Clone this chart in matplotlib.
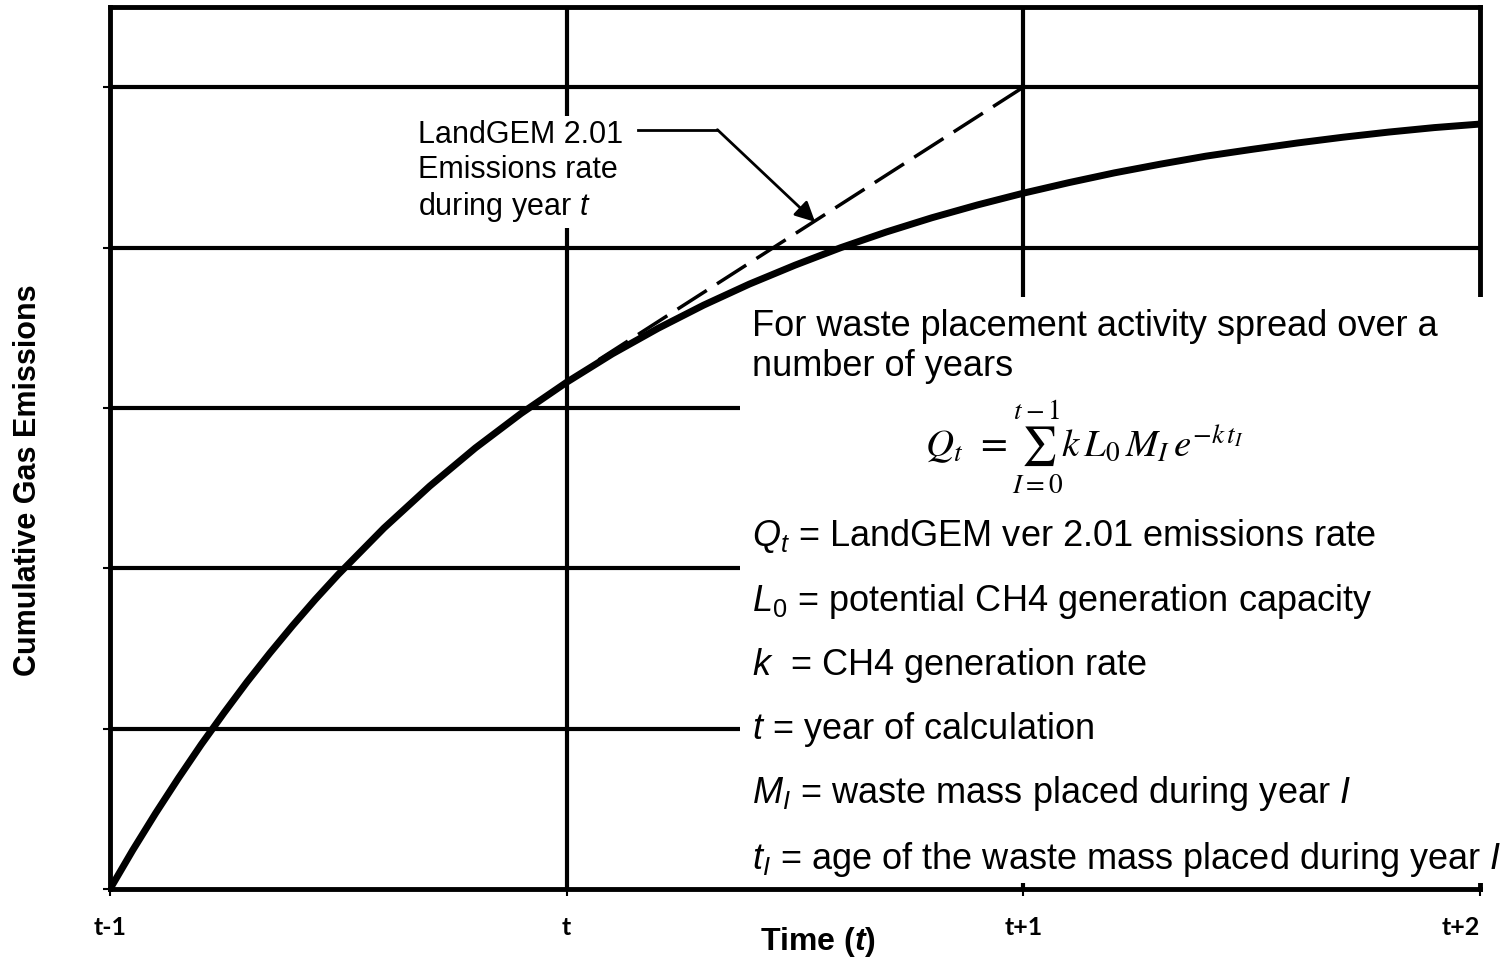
import matplotlib
matplotlib.use("Agg")
import matplotlib.pyplot as plt
from matplotlib.patches import Rectangle

# ---------------- data ----------------
x_ticks = [0, 1, 2, 3]
x_tick_labels = ["t-1", "t", "t+1", "t+2"]
y_grid = [0, 1, 2, 3, 4, 5]

# cumulative emissions curve
curve_x = [0, 0.05, 0.1, 0.15, 0.2, 0.25, 0.3, 0.35, 0.4, 0.45, 0.5, 0.6, 0.7, 0.8,
           0.9, 1.0, 1.1, 1.2, 1.3, 1.4, 1.5, 1.6, 1.7, 1.8, 1.9, 2.0, 2.1, 2.2,
           2.3, 2.4, 2.5, 2.6, 2.7, 2.8, 2.9, 3.0]
curve_y = [0, 0.243, 0.473, 0.692, 0.902, 1.100, 1.291, 1.471, 1.643, 1.807, 1.962,
           2.251, 2.512, 2.750, 2.965, 3.160, 3.337, 3.496, 3.641, 3.772, 3.890,
           3.999, 4.097, 4.186, 4.266, 4.339, 4.405, 4.466, 4.520, 4.570, 4.612,
           4.652, 4.688, 4.720, 4.748, 4.770]

# LandGEM 2.01 dashed emissions-rate line
dash_x = [1.07, 2.0]
dash_y = [3.30, 5.0]

annot_text = "LandGEM 2.01\nEmissions rate\nduring year $\\mathsf{t}$"
box_header = "For waste placement activity spread over a\nnumber of years"
equation = r"$Q_t\;\,=\sum_{I=0}^{t-1}k\,L_0\,M_I\,e^{-k\,t_I}$"
defs = [
    r"$Q_{\mathit{t}}$ = LandGEM ver 2.01 emissions rate",
    r"$\mathit{L}_0$ = potential CH4 generation capacity",
    r"$\mathit{k}$  = CH4 generation rate",
    r"$\mathit{t}$ = year of calculation",
    r"$\mathit{M_I}$ = waste mass placed during year $\mathit{I}$",
    r"$\mathit{t_I}$ = age of the waste mass placed during year $\mathit{I}$",
]

# ---------------- fonts ----------------
plt.rcParams["mathtext.fontset"] = "custom"
plt.rcParams["mathtext.rm"] = "Liberation Sans"
plt.rcParams["mathtext.it"] = "Liberation Sans:italic"
plt.rcParams["mathtext.sf"] = "Liberation Sans:italic"
plt.rcParams["mathtext.bf"] = "Liberation Sans:bold:italic"
plt.rcParams["font.family"] = ["Liberation Sans", "DejaVu Sans"]

fig = plt.figure(figsize=(15.12, 9.62), dpi=100)
ax = fig.add_axes([110 / 1512, 72 / 962, 1370 / 1512, 882 / 962])
ax.set_xlim(0, 3)
ax.set_ylim(0, 5.5)

# grid
for v in y_grid[1:]:
    ax.axhline(v, color="black", lw=3, zorder=1)
for v in x_ticks[1:3]:
    ax.axvline(v, color="black", lw=3, zorder=1)

for s in ax.spines.values():
    s.set_linewidth(3.5)
    s.set_zorder(1.5)

ax.set_xticks(x_ticks)
ax.set_xticklabels(x_tick_labels, fontfamily="Lato", fontweight="bold", fontsize=18)
ax.get_xticklabels()[-1].set_horizontalalignment("right")
ax.set_yticks(y_grid)
ax.set_yticklabels([])
ax.tick_params(axis="x", direction="inout", length=10, width=1.5, pad=14)
ax.tick_params(axis="y", direction="out", length=5, width=1.5)

# white box hiding the grid for the formula panel
ax.add_patch(Rectangle((1.379, 0.04), 1.68, 3.65, facecolor="white", edgecolor="none",
                       zorder=2, clip_on=False))

# curves
ax.plot(curve_x, curve_y, color="black", lw=5, zorder=4, solid_capstyle="butt")
ax.plot(dash_x, dash_y, color="black", lw=2.5, zorder=4, dashes=(10, 3.5))

# annotation
ax.text(0.675, 4.80, annot_text, fontsize=22, va="top", ha="left", linespacing=1.2,
        fontfamily="Liberation Sans",
        bbox=dict(facecolor="white", edgecolor="none", pad=4), zorder=3)
ax.plot([1.156, 1.33], [4.735, 4.735], color="black", lw=2, zorder=4)
ax.annotate("", xy=(1.544, 4.16), xytext=(1.33, 4.735),
            arrowprops=dict(arrowstyle="-|>", color="black", lw=2,
                            mutation_scale=30, shrinkA=0, shrinkB=0), zorder=4)

# formula panel text
ax.text(1.405, 3.62, box_header, fontsize=26, va="top", ha="left",
        linespacing=1.15, zorder=5)
ax.text(2.133, 2.76, equation, fontsize=28, ha="center", va="center",
        math_fontfamily="stix", zorder=5)
ys = [2.21, 1.80, 1.40, 1.00, 0.60, 0.19]
for yy, s in zip(ys, defs):
    ax.text(1.405, yy, s, fontsize=26, va="center", ha="left", zorder=5)

# axis labels
ax.set_xlabel("Time ($\\mathbf{t}$)", fontsize=23, fontweight="bold", va="center")
ax.xaxis.set_label_coords(0.517, -0.059)
ax.set_ylabel("Cumulative Gas Emissions", fontsize=22, fontweight="bold",
              va="center", ha="center")
ax.yaxis.set_label_coords(-0.06, 0.465)

fig.savefig("out.png", dpi=100)
